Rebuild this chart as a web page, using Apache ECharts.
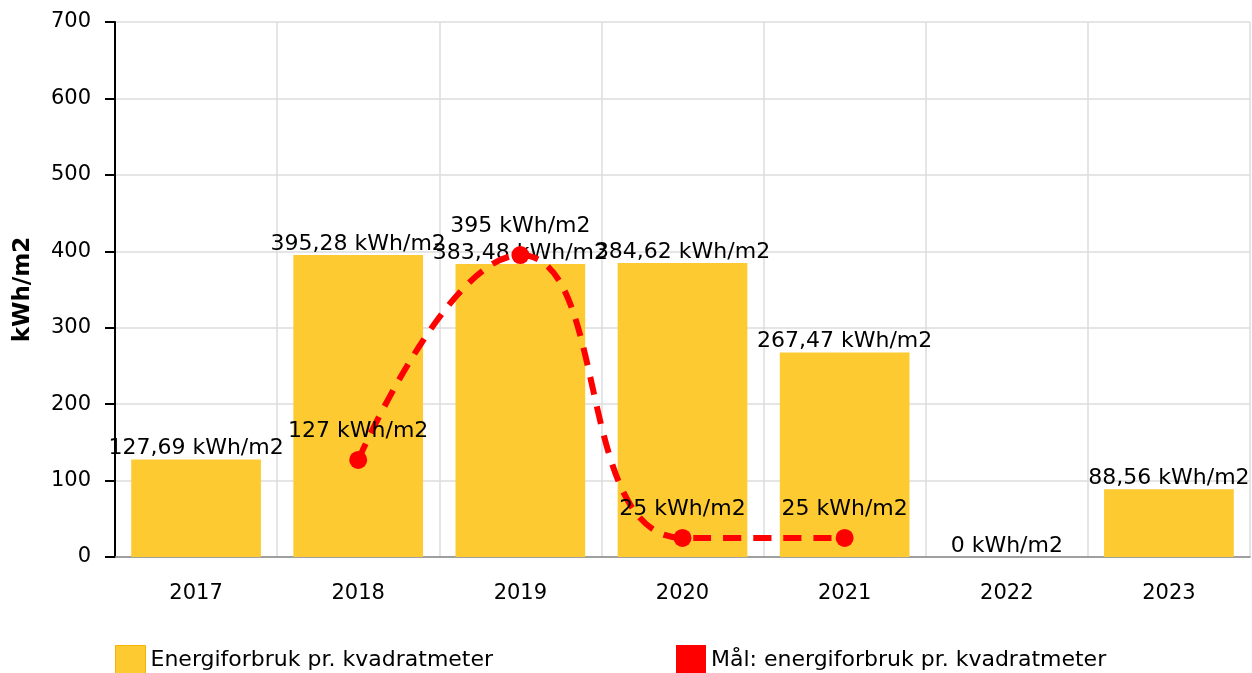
<!DOCTYPE html>
<html>
<head>
<meta charset="utf-8">
<script src="https://cdn.jsdelivr.net/npm/echarts@6/dist/echarts.min.js"></script>
<style>html,body{margin:0;padding:0;background:#fff}#c{width:1252px;height:673px}</style>
</head>
<body>
<div id="c"></div>
<script>
const categories = ['2017', '2018', '2019', '2020', '2021', '2022', '2023'];
const energyUse = [127.69, 395.28, 383.48, 384.62, 267.47, 0, 88.56];
const target = [null, 127, 395, 25, 25, null, null];
const yTicks = [0, 100, 200, 300, 400, 500, 600, 700];
const seriesNames = ['Energiforbruk pr. kvadratmeter', 'Mål: energiforbruk pr. kvadratmeter'];
const unit = 'kWh/m2';

const FONT = 'DejaVu Sans';
const fmt = v => String(v).replace('.', ',') + ' ' + unit;

const chart = echarts.init(document.getElementById('c'), null, {renderer: 'canvas'});
chart.setOption({
  animation: false,
  textStyle: {fontFamily: FONT},
  grid: {left: 115, right: 2, top: 22, bottom: 116},
  legend: [
    {data: [{name: seriesNames[0], icon: 'rect', itemStyle: {color: '#FDCA32', borderColor: '#F2B400', borderWidth: 1}}],
     left: 110, top: 640, itemWidth: 30, itemHeight: 30, itemGap: 7,
     textStyle: {fontFamily: FONT, fontSize: 22, color: '#000'}},
    {data: [{name: seriesNames[1], icon: 'rect'}],
     left: 671, top: 640, itemWidth: 30, itemHeight: 30,
     textStyle: {fontFamily: FONT, fontSize: 22, color: '#000'}}
  ],
  xAxis: {
    type: 'category',
    data: categories,
    axisLine: {lineStyle: {color: '#888', width: 1.5}},
    axisTick: {alignWithLabel: true, length: 9, lineStyle: {color: '#999', width: 1.5}},
    axisLabel: {fontFamily: FONT, fontSize: 21, color: '#000', margin: 26},
    splitLine: {show: true, lineStyle: {color: '#ddd', width: 1.5}}
  },
  yAxis: {
    type: 'value',
    min: yTicks[0],
    max: yTicks[yTicks.length - 1],
    interval: 100,
    name: unit,
    nameLocation: 'middle',
    nameGap: 80,
    nameTextStyle: {fontFamily: FONT, fontSize: 23, fontWeight: 'bold', color: '#000'},
    axisLine: {show: true, lineStyle: {color: '#000', width: 2}},
    axisTick: {show: true, length: 10, lineStyle: {color: '#000', width: 2}},
    axisLabel: {fontFamily: FONT, fontSize: 21, color: '#000', margin: 24},
    splitLine: {show: true, lineStyle: {color: '#ddd', width: 1.5}}
  },
  series: [
    {
      name: seriesNames[0],
      type: 'bar',
      data: energyUse,
      barCategoryGap: '20%',
      itemStyle: {color: '#FDCA32'},
      label: {show: true, position: 'top', distance: 0, fontFamily: FONT, fontSize: 22, color: '#000',
        formatter: p => fmt(p.value)},
      z: 2
    },
    {
      name: seriesNames[1],
      type: 'line',
      data: target,
      smooth: 0.5,
      connectNulls: false,
      symbol: 'circle',
      symbolSize: 18,
      itemStyle: {color: '#FF0000'},
      lineStyle: {color: '#FF0000', width: 6, type: [18, 12]},
      label: {show: true, position: 'top', distance: 9, fontFamily: FONT, fontSize: 22, color: '#000',
        formatter: p => fmt(p.value)},
      z: 5
    }
  ]
});
</script>
</body>
</html>
